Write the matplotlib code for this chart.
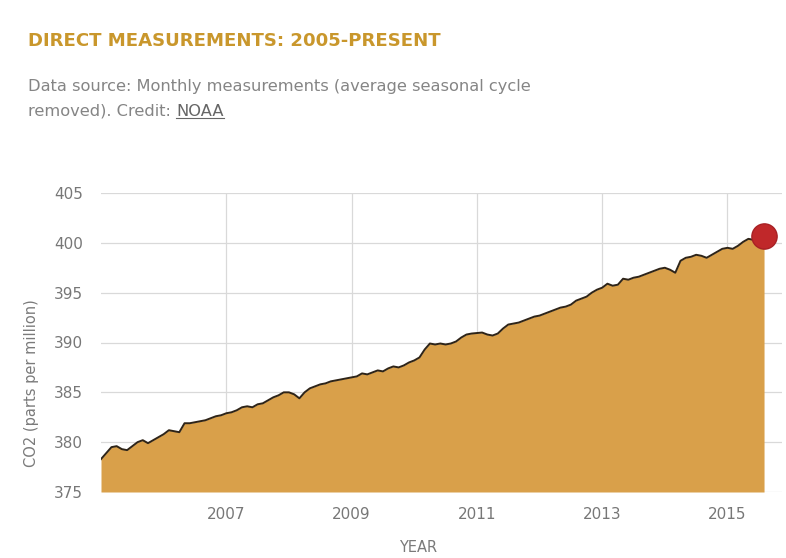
import matplotlib
matplotlib.use("Agg")
import matplotlib.pyplot as plt
import numpy as np

# monthly CO2 (seasonal cycle removed), Jan 2005 - Aug 2015
co2_2005 = [378.3, 378.9, 379.5, 379.6, 379.3, 379.2, 379.6, 380.0, 380.2, 379.9, 380.2, 380.5]
co2_2006 = [380.8, 381.2, 381.1, 381.0, 381.9, 381.9, 382.0, 382.1, 382.2, 382.4, 382.6, 382.7]
co2_2007 = [382.9, 383.0, 383.2, 383.5, 383.6, 383.5, 383.8, 383.9, 384.2, 384.5, 384.7, 385.0]
co2_2008 = [385.0, 384.8, 384.4, 385.0, 385.4, 385.6, 385.8, 385.9, 386.1, 386.2, 386.3, 386.4]
co2_2009 = [386.5, 386.6, 386.9, 386.8, 387.0, 387.2, 387.1, 387.4, 387.6, 387.5, 387.7, 388.0]
co2_2010 = [388.2, 388.5, 389.3, 389.9, 389.8, 389.9, 389.8, 389.9, 390.1, 390.5, 390.8, 390.9]
co2_2011 = [390.95, 391.0, 390.8, 390.7, 390.9, 391.4, 391.8, 391.9, 392.0, 392.2, 392.4, 392.6]
co2_2012 = [392.7, 392.9, 393.1, 393.3, 393.5, 393.6, 393.8, 394.2, 394.4, 394.6, 395.0, 395.3]
co2_2013 = [395.5, 395.9, 395.7, 395.8, 396.4, 396.3, 396.5, 396.6, 396.8, 397.0, 397.2, 397.4]
co2_2014 = [397.5, 397.3, 397.0, 398.2, 398.5, 398.6, 398.8, 398.7, 398.5, 398.8, 399.1, 399.4]
co2_2015 = [399.5, 399.4, 399.7, 400.1, 400.4, 400.3, 400.5, 400.7]

co2 = (co2_2005 + co2_2006 + co2_2007 + co2_2008 + co2_2009 + co2_2010
       + co2_2011 + co2_2012 + co2_2013 + co2_2014 + co2_2015)
years = 2005 + np.arange(len(co2)) / 12.0

xticks = [2007, 2009, 2011, 2013, 2015]
yticks = [375, 380, 385, 390, 395, 400, 405]

gold = "#D9A04A"
title_col = "#C9972C"
grey_txt = "#858585"

plt.rcParams['font.family'] = ['DejaVu Sans']

fig = plt.figure(figsize=(7.86, 5.58), dpi=100)
ax = fig.add_axes([101 / 786, 66 / 558, 681 / 786, 299 / 558])

ax.fill_between(years, 375, co2, color=gold, linewidth=0, zorder=2)
ax.plot(years, co2, color="#2e2418", linewidth=1.4, zorder=3)
ax.scatter([years[-1]], [co2[-1]], s=330, color="#C0282A", edgecolor="#a82024",
           linewidth=1, zorder=4)

ax.set_xlim(2005.0, 2015.87)
ax.set_ylim(375, 405)
ax.set_xticks(xticks)
ax.set_yticks(yticks)
ax.grid(True, color="#d9d9d9", linewidth=0.9, zorder=1)
ax.set_axisbelow(True)
for s in ax.spines.values():
    s.set_visible(False)
ax.tick_params(length=0, labelsize=11, labelcolor="#777777", pad=13)
ax.tick_params(axis="x", pad=11)

fig.text(32 / 786, 1 - 383 / 558, "CO2 (parts per million)", rotation=90,
         ha="center", va="center", fontsize=10.5, color="#7a7a7a")
fig.text(418 / 786, 1 - 548 / 558, "YEAR", ha="center", va="center",
         fontsize=10.5, color="#7a7a7a")

fig.text(28 / 786, 1 - 41 / 558, "DIRECT MEASUREMENTS: 2005-PRESENT",
         ha="left", va="center", fontsize=13.1, fontweight="bold", color=title_col)
fig.text(28 / 786, 1 - 86 / 558,
         "Data source: Monthly measurements (average seasonal cycle",
         ha="left", va="center", fontsize=11.7, color=grey_txt)
t1 = fig.text(28 / 786, 1 - 111 / 558, "removed). Credit: ",
              ha="left", va="center", fontsize=11.7, color=grey_txt)
fig.canvas.draw()
r = fig.canvas.get_renderer()
bb = t1.get_window_extent(r)
t2 = fig.text(bb.x1 / 786, 1 - 111 / 558, "NOAA", ha="left", va="center",
              fontsize=11.7, color="#666666")
bb2 = t2.get_window_extent(r)
uy = (bb2.y0 + 1) / 558
fig.add_artist(plt.Line2D([bb2.x0 / 786, bb2.x1 / 786], [uy, uy],
                          color="#666666", linewidth=0.8))

fig.savefig("out.png", dpi=100, facecolor="white")
